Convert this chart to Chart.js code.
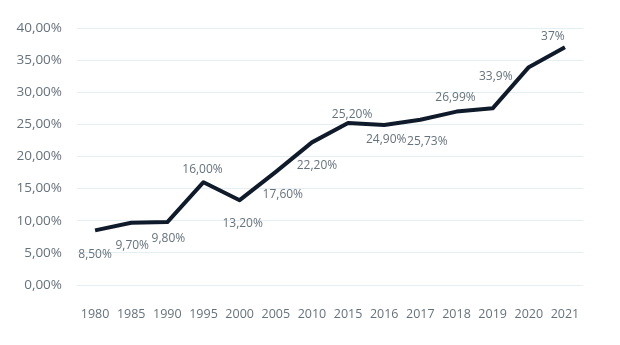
<!DOCTYPE html>
<html>
<head>
<meta charset="utf-8">
<script src="https://cdn.jsdelivr.net/npm/chart.js@4/dist/chart.umd.min.js"></script>
<style>
  html, body { margin: 0; padding: 0; background: #fff; }
  #wrap { width: 620px; height: 345px; position: relative; }
</style>
</head>
<body>
<div id="wrap"><canvas id="chart"></canvas></div>
<script>
// Years on the x axis
const years = ['1980', '1985', '1990', '1995', '2000', '2005', '2010', '2015', '2016', '2017', '2018', '2019', '2020', '2021'];
// Share in percent
const values = [8.5, 9.7, 9.8, 16.0, 13.2, 17.6, 22.2, 25.2, 24.9, 25.73, 26.99, 27.5, 33.9, 37.0];
// Texts shown next to the line (2019 has none)
const pointLabels = ['8,50%', '9,70%', '9,80%', '16,00%', '13,20%', '17,60%', '22,20%', '25,20%', '24,90%', '25,73%', '26,99%', '', '33,9%', '37%'];
const yTicks = [0, 5, 10, 15, 20, 25, 30, 35, 40];

// where each text sits relative to its point
const labelDx = [0, 1, 1, -1, 3, 7, 5, 4, 2, 7, -1, 0, -33, -12];
const labelDy = [24, 23, 17, -13, 23, 23, 23, -9, 15, 22, -14, 0, 9, -11];

const textGrey = '#66727b';

const pointText = {
  id: 'pointText',
  afterDatasetsDraw(chart) {
    const ctx = chart.ctx;
    const meta = chart.getDatasetMeta(0);
    ctx.save();
    ctx.font = '12px "Open Sans"';
    ctx.fillStyle = textGrey;
    ctx.textAlign = 'center';
    ctx.textBaseline = 'middle';
    meta.data.forEach((pt, i) => {
      if (!pointLabels[i]) return;
      ctx.fillText(pointLabels[i], pt.x + labelDx[i], pt.y + labelDy[i]);
    });
    ctx.restore();
  }
};

new Chart(document.getElementById('chart'), {
  type: 'line',
  data: {
    labels: years,
    datasets: [{
      data: values,
      borderColor: '#0f1b2b',
      borderWidth: 4,
      borderJoinStyle: 'round',
      tension: 0,
      pointRadius: 0,
      fill: false
    }]
  },
  options: {
    responsive: true,
    maintainAspectRatio: false,
    animation: false,
    layout: { padding: { top: 28, right: 37, bottom: 0, left: 0 } },
    plugins: { legend: { display: false }, tooltip: { enabled: false } },
    scales: {
      x: {
        offset: true,
        grid: { display: false },
        border: { display: false },
        ticks: { color: textGrey, font: { family: 'Open Sans', size: 12.5 }, padding: 14, maxRotation: 0, autoSkip: false },
        afterFit: s => { s.height = 60; }
      },
      y: {
        min: 0,
        max: 40,
        afterBuildTicks: s => { s.ticks = yTicks.map(v => ({ value: v })); },
        grid: { color: '#e5eef3', lineWidth: 1, drawTicks: false },
        border: { display: false },
        ticks: {
          color: textGrey,
          font: { family: 'Open Sans', size: 13.5 },
          padding: 15,
          callback: v => v.toFixed(2).replace('.', ',') + '%'
        },
        afterFit: s => { s.width = 77; }
      }
    }
  },
  plugins: [pointText]
});
</script>
</body>
</html>
